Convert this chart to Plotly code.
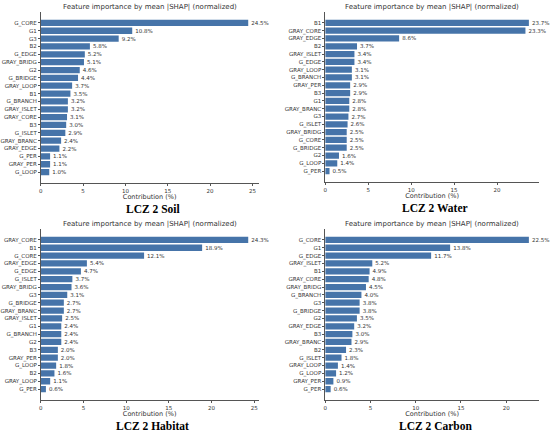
import plotly.graph_objects as go

# data (percent contribution)
soil_labels = ["G_CORE", "G1", "G3", "B2", "G_EDGE", "GRAY_BRIDG", "G2", "G_BRIDGE", "GRAY_LOOP", "B1",
               "G_BRANCH", "GRAY_ISLET", "GRAY_CORE", "B3", "G_ISLET", "GRAY_BRANC", "GRAY_EDGE", "G_PER",
               "GRAY_PER", "G_LOOP"]
soil_values = [24.5, 10.8, 9.2, 5.8, 5.2, 5.1, 4.6, 4.4, 3.7, 3.5, 3.2, 3.2, 3.1, 3.0, 2.9, 2.4, 2.2, 1.1, 1.1, 1.0]

water_labels = ["B1", "GRAY_CORE", "GRAY_EDGE", "B2", "GRAY_ISLET", "G_EDGE", "GRAY_LOOP", "G_BRANCH",
                "GRAY_PER", "B3", "G1", "GRAY_BRANC", "G3", "G_ISLET", "GRAY_BRIDG", "G_CORE", "G_BRIDGE",
                "G2", "G_LOOP", "G_PER"]
water_values = [23.7, 23.3, 8.6, 3.7, 3.4, 3.4, 3.1, 3.1, 2.9, 2.9, 2.8, 2.8, 2.7, 2.6, 2.5, 2.5, 2.5, 1.6, 1.4, 0.5]

habitat_labels = ["GRAY_CORE", "B1", "G_CORE", "GRAY_EDGE", "G_EDGE", "G_ISLET", "GRAY_BRIDG", "G3",
                  "G_BRIDGE", "GRAY_BRANC", "GRAY_ISLET", "G1", "G_BRANCH", "G2", "B3", "GRAY_PER", "G_LOOP",
                  "B2", "GRAY_LOOP", "G_PER"]
habitat_values = [24.3, 18.9, 12.1, 5.4, 4.7, 3.7, 3.6, 3.1, 2.7, 2.7, 2.5, 2.4, 2.4, 2.4, 2.0, 2.0, 1.8, 1.6, 1.1, 0.6]

carbon_labels = ["G_CORE", "G1", "G_EDGE", "GRAY_ISLET", "B1", "GRAY_CORE", "GRAY_BRIDG", "G_BRANCH", "G3",
                 "G_BRIDGE", "G2", "GRAY_EDGE", "B3", "GRAY_BRANC", "B2", "G_ISLET", "GRAY_LOOP", "G_LOOP",
                 "GRAY_PER", "G_PER"]
carbon_values = [22.5, 13.8, 11.7, 5.2, 4.9, 4.8, 4.5, 4.0, 3.8, 3.8, 3.5, 3.2, 3.0, 2.9, 2.3, 1.8, 1.4, 1.2, 0.9, 0.6]

captions = ["LCZ 2 Soil", "LCZ 2 Water", "LCZ 2 Habitat", "LCZ 2 Carbon"]
panel_title = "Feature importance by mean |SHAP| (normalized)"

W, H = 550, 434
BAR = "#4674a9"
INK = "#333333"
FONT = "DejaVu Sans"

# pixel boxes of each plot area: x0, x1, ytop, ybottom
boxes = [(38, 257, 12, 183), (324, 539, 12, 182), (38, 257, 229, 400), (324, 539, 229, 400)]
panels = [(soil_labels, soil_values), (water_labels, water_values),
          (habitat_labels, habitat_values), (carbon_labels, carbon_values)]

fig = go.Figure()
annotations = []

for i, ((labels, values), (x0, x1, yt, yb)) in enumerate(zip(panels, boxes)):
    n = i + 1
    xa = "x" if n == 1 else f"x{n}"
    ya = "y" if n == 1 else f"y{n}"
    fig.add_trace(go.Bar(
        x=values, y=labels, orientation="h", xaxis=xa, yaxis=ya,
        marker=dict(color=BAR, line=dict(width=0)), width=0.8,
        text=[f"{v:.1f}%" for v in values], textposition="outside",
        textfont=dict(size=5.5, color=INK, family=FONT), cliponaxis=False,
        constraintext="none", showlegend=False, hoverinfo="x+y",
    ))
    k = len(labels)
    fig.layout[f"xaxis{'' if n == 1 else n}"] = dict(
        domain=[x0 / W, x1 / W], anchor=ya, range=[0, max(values) * 1.05],
        tick0=0, dtick=5, ticks="outside", ticklen=2, tickwidth=0.6, tickcolor="#555",
        showline=True, linecolor="#555", linewidth=0.8, showgrid=False, zeroline=False,
        tickfont=dict(size=5.5, color=INK, family=FONT),
        title=dict(text="Contribution (%)", font=dict(size=6.5, color=INK, family=FONT), standoff=0),
    )
    fig.layout[f"yaxis{'' if n == 1 else n}"] = dict(
        domain=[1 - yb / H, 1 - yt / H], anchor=xa, type="category",
        categoryorder="array", categoryarray=labels, range=[k - 1 + 1.39, -1.39],
        ticks="outside", ticklen=2, tickwidth=0.6, tickcolor="#555",
        showline=True, linecolor="#555", linewidth=0.8, showgrid=False,
        tickfont=dict(size=5.5, color=INK, family=FONT),
    )
    cx = (x0 + x1) / 2 / W
    annotations.append(dict(text=panel_title, x=cx, y=1 - (yt - 5) / H, xref="paper", yref="paper",
                            showarrow=False, xanchor="center", yanchor="middle",
                            font=dict(size=7, color=INK, family=FONT)))
    annotations.append(dict(text=f"<b>{captions[i]}</b>", x=(cx * W + 3) / W, y=1 - (yb + 26) / H,
                            xref="paper", yref="paper", showarrow=False, xanchor="center", yanchor="middle",
                            font=dict(size=11.5, color="#000", family="Liberation Serif")))

fig.update_layout(
    width=W, height=H, margin=dict(l=0, r=0, t=0, b=0),
    paper_bgcolor="white", plot_bgcolor="white",
    bargap=0.2, annotations=annotations,
)

# drop the default body margin so the figure fills the window exactly
fig.write_html("out.html", config={"displayModeBar": False},
               post_script="document.body.style.margin='0px';")
